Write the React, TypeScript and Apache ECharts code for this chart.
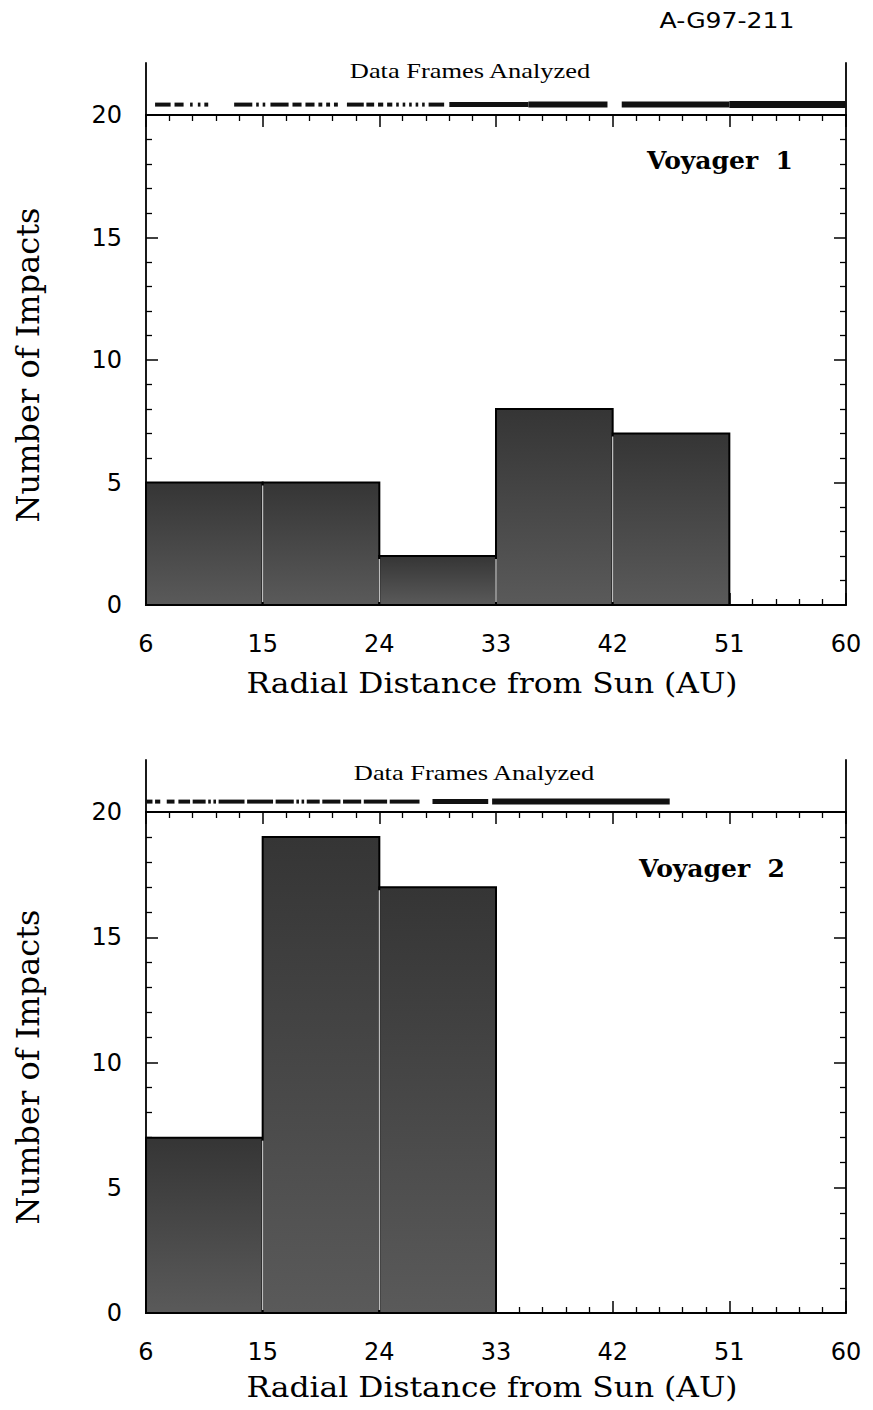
import React, { useEffect, useRef } from "react";
import * as echarts from "echarts";

// ---------- data ----------
const binEdges = [6, 15, 24, 33, 42, 51, 60];
const voyager1Impacts = [5, 5, 2, 8, 7, 0];
const voyager2Impacts = [7, 19, 17, 0, 0, 0];
const xTickStep = 9;
const yTickStep = 5;
const yMax = 20;

// Data frames analyzed: [start AU, end AU, density level]
const voyager1Frames: number[][] = [
  [6.7, 7.9, 2], [8.2, 8.9, 2], [9.4, 9.6, 2], [10.0, 10.2, 2], [10.5, 10.8, 2],
  [12.8, 14.2, 2], [14.5, 14.7, 2], [15.0, 15.2, 2], [15.6, 17.0, 2], [17.3, 18.0, 2],
  [18.3, 19.0, 2], [19.3, 19.6, 2], [19.9, 20.2, 2], [20.5, 20.8, 2], [21.5, 22.8, 2],
  [23.0, 23.6, 2], [23.9, 24.3, 2], [24.6, 25.0, 2], [25.3, 25.5, 2], [25.8, 26.0, 2],
  [26.3, 26.5, 2], [26.8, 27.0, 2], [27.3, 27.5, 2], [27.8, 29.0, 2],
  [29.4, 35.5, 3], [35.5, 41.6, 4], [42.7, 51.0, 4], [51.0, 60.0, 5],
];
const voyager2Frames: number[][] = [
  [6.0, 6.5, 2], [6.7, 7.1, 2], [7.6, 8.2, 2], [8.5, 9.4, 2], [9.6, 10.6, 2],
  [10.8, 11.0, 2], [11.2, 11.4, 2], [11.6, 13.6, 2], [13.8, 15.8, 2], [16.0, 17.4, 2],
  [17.6, 17.8, 2], [18.0, 18.2, 2], [18.4, 19.4, 2], [19.6, 21.0, 2], [21.2, 22.6, 2],
  [22.8, 24.6, 2], [24.8, 27.1, 2], [28.1, 32.4, 3], [32.7, 46.4, 4],
];

const titles = ["Voyager  1", "Voyager  2"];
const xName = "Radial Distance from Sun (AU)";
const yName = "Number of Impacts";
const framesLabel = "Data Frames Analyzed";
const docId = "A-G97-211";

// ---------- helpers ----------
const xMin = binEdges[0];
const xMax = binEdges[binEdges.length - 1];

function mainX(gridIndex: number, position: string, showLabels: boolean) {
  return {
    type: "value",
    gridIndex,
    position,
    min: xMin,
    max: xMax,
    interval: xTickStep,
    axisLine: { show: true, onZero: false, lineStyle: { color: "#000", width: 1.8 } },
    axisTick: { show: true, inside: true, length: 12, lineStyle: { color: "#000", width: 1.5 } },
    minorTick: { show: true, splitNumber: 5, length: 6, lineStyle: { color: "#000", width: 1.3 } },
    axisLabel: {
      show: showLabels,
      margin: 27,
      fontSize: 24,
      fontFamily: "DejaVu Sans",
      color: "#000",
    },
    splitLine: { show: false },
    minorSplitLine: { show: false },
  };
}

function mainY(gridIndex: number, position: string, showLabels: boolean) {
  return {
    type: "value",
    gridIndex,
    position,
    min: 0,
    max: yMax,
    interval: yTickStep,
    axisLine: { show: true, onZero: false, lineStyle: { color: "#000", width: 1.8 } },
    axisTick: { show: true, inside: true, length: 12, lineStyle: { color: "#000", width: 1.5 } },
    minorTick: { show: true, splitNumber: 5, length: 6, lineStyle: { color: "#000", width: 1.3 } },
    axisLabel: {
      show: showLabels,
      margin: 24,
      fontSize: 24,
      fontFamily: "DejaVu Sans",
      color: "#000",
    },
    splitLine: { show: false },
    minorSplitLine: { show: false },
  };
}

function hiddenX(gridIndex: number) {
  return { type: "value", gridIndex, min: xMin, max: xMax, show: false };
}

function frameY(gridIndex: number, position: string) {
  return {
    type: "value",
    gridIndex,
    position,
    min: 0,
    max: 5,
    axisLine: { show: true, onZero: false, lineStyle: { color: "#000", width: 1.8 } },
    axisTick: { show: false },
    axisLabel: { show: false },
    splitLine: { show: false },
  };
}

function histSeries(values: number[], xAxisIndex: number, yAxisIndex: number) {
  const data = values.map((v, i) => [binEdges[i], binEdges[i + 1], v]);
  return {
    type: "custom",
    coordinateSystem: "cartesian2d",
    xAxisIndex,
    yAxisIndex,
    encode: { x: [0, 1], y: 2 },
    data,
    z: 3,
    renderItem: (params: any, api: any) => {
      const i = params.dataIndex;
      const x0 = api.value(0);
      const x1 = api.value(1);
      const v = api.value(2);
      if (!v) return null;
      const p0 = api.coord([x0, v]);
      const p1 = api.coord([x1, 0]);
      const children: any[] = [
        {
          type: "rect",
          shape: { x: p0[0], y: p0[1], width: p1[0] - p0[0], height: p1[1] - p0[1] },
          style: {
            fill: {
              type: "linear",
              x: 0,
              y: 0,
              x2: 0,
              y2: 1,
              colorStops: [
                { offset: 0, color: "#353535" },
                { offset: 1, color: "#5a5a5a" },
              ],
            },
            stroke: "#000",
            lineWidth: 2,
          },
        },
      ];
      const prev = i > 0 ? values[i - 1] : 0;
      if (prev > 0) {
        const q = api.coord([x0, Math.min(prev, v)]);
        children.push({
          type: "line",
          shape: { x1: p0[0], y1: q[1] + 3, x2: p0[0], y2: p1[1] - 3 },
          style: { stroke: "#bdbdbd", lineWidth: 1.5 },
        });
      }
      return { type: "group", children };
    },
  };
}

function frameSeries(frames: number[][], xAxisIndex: number, yAxisIndex: number) {
  return {
    type: "custom",
    coordinateSystem: "cartesian2d",
    xAxisIndex,
    yAxisIndex,
    encode: { x: [0, 1] },
    data: frames,
    renderItem: (params: any, api: any) => {
      const a = api.coord([api.value(0), 1]);
      const b = api.coord([api.value(1), 1]);
      return {
        type: "line",
        shape: { x1: a[0], y1: a[1], x2: b[0], y2: b[1] },
        style: { stroke: "#111", lineWidth: 2 + api.value(2), lineCap: "butt" },
      };
    },
  };
}

function serifText(
  text: string,
  x: number,
  y: number,
  fontSize: number,
  opts: any = {}
) {
  return {
    type: "text",
    x,
    y,
    rotation: opts.rotation || 0,
    scaleX: opts.scaleX || 1,
    style: {
      text,
      fontSize,
      fontFamily: opts.fontFamily || "DejaVu Serif",
      fontWeight: opts.fontWeight || "normal",
      fill: "#000",
      align: opts.align || "center",
      verticalAlign: "middle",
    },
  };
}

export default function App() {
  const ref = useRef<HTMLDivElement>(null);

  useEffect(() => {
    if (!ref.current) return;
    const chart = echarts.init(ref.current, undefined, { renderer: "svg" });

    const option: any = {
      animation: false,
      backgroundColor: "#fff",
      grid: [
        { left: 146, top: 115, width: 700, height: 490 },
        { left: 146, top: 63, width: 700, height: 52 },
        { left: 146, top: 812, width: 700, height: 501 },
        { left: 146, top: 760, width: 700, height: 52 },
      ],
      xAxis: [
        mainX(0, "bottom", true),
        mainX(0, "top", false),
        hiddenX(1),
        mainX(2, "bottom", true),
        mainX(2, "top", false),
        hiddenX(3),
      ],
      yAxis: [
        mainY(0, "left", true),
        mainY(0, "right", false),
        frameY(1, "left"),
        frameY(1, "right"),
        mainY(2, "left", true),
        mainY(2, "right", false),
        frameY(3, "left"),
        frameY(3, "right"),
      ],
      series: [
        histSeries(voyager1Impacts, 0, 0),
        frameSeries(voyager1Frames, 2, 2),
        histSeries(voyager2Impacts, 3, 4),
        frameSeries(voyager2Frames, 5, 6),
      ],
      graphic: [
        serifText(docId, 727, 21, 22, { fontFamily: "DejaVu Sans", scaleX: 1.14 }),
        serifText(framesLabel, 470, 70, 22, { fontFamily: "Liberation Serif", scaleX: 1.2 }),
        serifText(framesLabel, 474, 772, 22, { fontFamily: "Liberation Serif", scaleX: 1.2 }),
        serifText(titles[0], 720, 160, 25, { fontWeight: "bold" }),
        serifText(titles[1], 712, 868, 25, { fontWeight: "bold" }),
        serifText(xName, 492, 683, 28, { scaleX: 1.12 }),
        serifText(xName, 492, 1387, 28, { scaleX: 1.12 }),
        serifText(yName, 28, 365, 32, { rotation: Math.PI / 2 }),
        serifText(yName, 28, 1067, 32, { rotation: Math.PI / 2 }),
      ],
    };

    chart.setOption(option);
    return () => chart.dispose();
  }, []);

  return (
    <div
      ref={ref}
      style={{ position: "absolute", left: 0, top: 0, width: 873, height: 1410, background: "#fff" }}
    />
  );
}
